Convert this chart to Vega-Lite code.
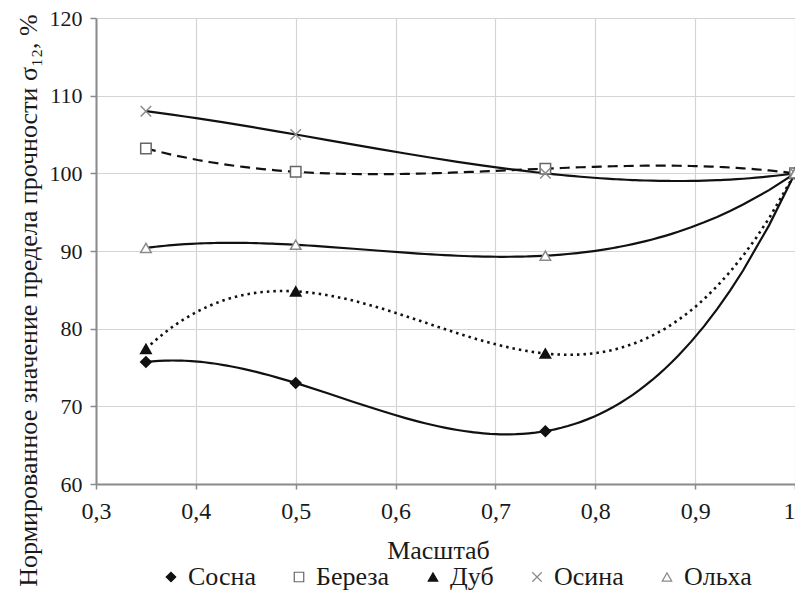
{
  "$schema": "https://vega.github.io/schema/vega-lite/v6.json",
  "width": 699,
  "height": 466,
  "autosize": {"type": "none"},
  "padding": {"left": 96, "top": 18, "right": 0, "bottom": 110},
  "background": "white",
  "config": {
    "font": "Liberation Serif",
    "view": {"stroke": null}
  },
  "data": {
    "values": [
      {"s": "Сосна", "x": 0.35, "y": 75.7},
      {"s": "Сосна", "x": 0.5, "y": 73.0},
      {"s": "Сосна", "x": 0.75, "y": 66.8},
      {"s": "Сосна", "x": 1.0, "y": 100.0},
      {"s": "Береза", "x": 0.35, "y": 103.2},
      {"s": "Береза", "x": 0.5, "y": 100.2},
      {"s": "Береза", "x": 0.75, "y": 100.6},
      {"s": "Береза", "x": 1.0, "y": 100.0},
      {"s": "Дуб", "x": 0.35, "y": 77.4},
      {"s": "Дуб", "x": 0.5, "y": 84.8},
      {"s": "Дуб", "x": 0.75, "y": 76.8},
      {"s": "Дуб", "x": 1.0, "y": 100.0},
      {"s": "Осина", "x": 0.35, "y": 108.0},
      {"s": "Осина", "x": 0.5, "y": 105.0},
      {"s": "Осина", "x": 0.75, "y": 100.0},
      {"s": "Осина", "x": 1.0, "y": 100.0},
      {"s": "Ольха", "x": 0.35, "y": 90.4},
      {"s": "Ольха", "x": 0.5, "y": 90.8},
      {"s": "Ольха", "x": 0.75, "y": 89.4},
      {"s": "Ольха", "x": 1.0, "y": 100.0}
    ]
  },
  "layer": [
    {
      "transform": [
        {"filter": {"field": "s", "oneOf": ["Сосна", "Осина", "Ольха"]}},
        {"regression": "y", "on": "x", "groupby": ["s"], "method": "poly", "order": 3, "extent": [0.35, 1.0]}
      ],
      "mark": {"type": "line", "color": "#111", "strokeWidth": 2.2, "clip": true},
      "encoding": {
        "x": {"field": "x", "type": "quantitative",
          "scale": {"domain": [0.3, 1.0], "nice": false, "zero": false},
          "axis": {"values": [0.3, 0.4, 0.5, 0.6, 0.7, 0.8, 0.9, 1.0], "labelExpr": "replace(format(datum.value, '.1~f'), '.', ',')", "labelAlign": {"expr": "datum.value == 1 ? 'right' : 'center'"}, "title": "Масштаб", "titleX": 342, "titleY": 66, "titleAlign": "center", "titleBaseline": "middle", "labelPadding": 10,
            "labelFont": "Liberation Serif", "titleFont": "Liberation Serif", "labelColor": "#1a1a1a", "titleColor": "#1a1a1a", "titleFontWeight": "normal", "labelFontSize": 24, "titleFontSize": 26, "gridColor": "#d4d4d4", "gridWidth": 1.2, "domainColor": "#8a8a8a", "domainWidth": 2, "tickColor": "#8a8a8a", "tickSize": 5, "tickWidth": 1.5}},
        "y": {"field": "y", "type": "quantitative",
          "scale": {"domain": [60, 120], "nice": false, "zero": false},
          "axis": {"values": [60, 70, 80, 90, 100, 110, 120], "title": "Нормированное значение предела прочности σ₁₂, %", "titleX": -60, "titleY": 282, "titleAlign": "center", "titleBaseline": "alphabetic", "titleAngle": -90, "labelPadding": 8,
            "labelFont": "Liberation Serif", "titleFont": "Liberation Serif", "labelColor": "#1a1a1a", "titleColor": "#1a1a1a", "titleFontWeight": "normal", "labelFontSize": 22, "titleFontSize": 26, "gridColor": "#d4d4d4", "gridWidth": 1.2, "domainColor": "#8a8a8a", "domainWidth": 2, "tickColor": "#8a8a8a", "tickSize": 6, "tickWidth": 1.5}},
        "detail": {"field": "s"}
      }
    },
    {
      "transform": [
        {"filter": {"field": "s", "equal": "Береза"}},
        {"regression": "y", "on": "x", "method": "poly", "order": 3, "extent": [0.35, 1.0]}
      ],
      "mark": {"type": "line", "color": "#111", "strokeWidth": 2.2, "strokeDash": [10, 6], "clip": true},
      "encoding": {
        "x": {"field": "x", "type": "quantitative"},
        "y": {"field": "y", "type": "quantitative"}
      }
    },
    {
      "transform": [
        {"filter": {"field": "s", "equal": "Дуб"}},
        {"regression": "y", "on": "x", "method": "poly", "order": 3, "extent": [0.35, 1.0]}
      ],
      "mark": {"type": "line", "color": "#111", "strokeWidth": 2.6, "strokeDash": [2.5, 4], "clip": true},
      "encoding": {
        "x": {"field": "x", "type": "quantitative"},
        "y": {"field": "y", "type": "quantitative"}
      }
    },
    {
      "mark": {"type": "point", "size": 110, "strokeWidth": 1.5, "opacity": 1},
      "encoding": {
        "x": {"field": "x", "type": "quantitative"},
        "y": {"field": "y", "type": "quantitative"},
        "shape": {"field": "s", "type": "nominal",
          "scale": {"domain": ["Сосна", "Береза", "Дуб", "Осина", "Ольха"], "range": ["diamond", "square", "triangle-up", "M-1,-1L1,1M1,-1L-1,1", "triangle-up"]},
          "legend": {"title": null, "orient": "none", "direction": "horizontal", "legendX": 62, "legendY": 546, "symbolSize": 90, "labelOffset": 4, "columnPadding": 30, "symbolStrokeWidth": 1.2, "labelFont": "Liberation Serif", "labelFontSize": 26, "labelColor": "#1a1a1a"}},
        "fill": {"field": "s", "type": "nominal",
          "scale": {"domain": ["Сосна", "Береза", "Дуб", "Осина", "Ольха"], "range": ["#111111", "#ffffff", "#111111", "transparent", "#ffffff"]}},
        "stroke": {"field": "s", "type": "nominal",
          "scale": {"domain": ["Сосна", "Береза", "Дуб", "Осина", "Ольха"], "range": ["#111111", "#666666", "#111111", "#8a8a8a", "#8a8a8a"]}}
      }
    }
  ]
}
